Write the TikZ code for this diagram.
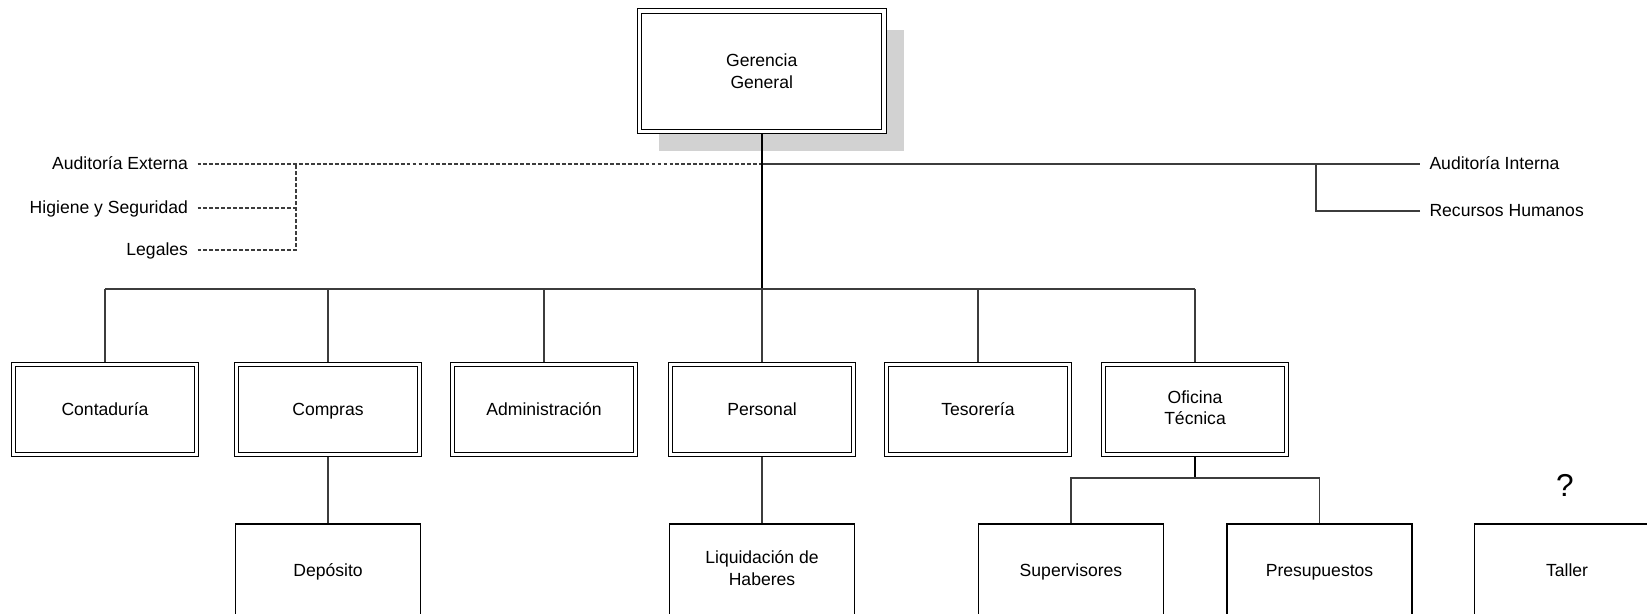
\documentclass[tikz,border=0pt]{standalone}
\usepackage{fontspec}
\setmainfont{Liberation Sans}
\usetikzlibrary{calc,shadows}
\definecolor{LineGray}{HTML}{3C3C3C}
\definecolor{ShadowGray}{HTML}{D2D2D2}
\newcommand{\topstrut}{\rule{0pt}{9.4pt}}
\newcommand{\botstrut}{\rule[-2.2pt]{0pt}{2.2pt}}
\tikzset{
    mainbox/.style = {draw, rectangle, double, double distance=1.8pt,
        line width=0.7pt, fill=white, align=center, outer sep=1.6pt,
        minimum height=2.41cm,
        minimum width=4.89cm},
    deptbox/.style = {draw, rectangle, double, double distance=1.8pt,
        line width=0.7pt, fill=white, align=center, outer sep=1.6pt,
        execute at begin node=\topstrut, execute at end node=\botstrut,
        minimum height=1.8cm,
        minimum width=3.66cm},
    subbox/.style = {draw, rectangle, line width=0.8pt, align=center,
        execute at begin node=\topstrut, execute at end node=\botstrut,
        minimum height=1.84cm,
        minimum width=3.7cm},
    side/.style = {inner sep=0pt, outer sep=0.19cm, text height=1.5ex, text depth=.25ex},
    link/.style = {draw, LineGray, line width=0.6pt},
    mainlink/.style = {draw, black, line width=1.1pt},
    dashlink/.style = {link, dash pattern=on 2.2pt off 1.2pt}
}

\begin{document}
\begin{tikzpicture}
    \clip[use as bounding box] (0,0) rectangle (32.94,-12.28);
    % direccion
    \node[mainbox, drop shadow={shadow xshift=0.39cm, shadow yshift=-0.39cm, fill=ShadowGray, opacity=1}]
        (gg) at (15.235,-1.425) {Gerencia\\General};
    % staff
    \node[side, anchor=east] (ae) at (3.95,-3.28) {Auditoría Externa};
    \node[side, anchor=east] (hs) at (3.95,-4.16) {Higiene y Seguridad};
    \node[side, anchor=east] (le) at (3.95,-5.0) {Legales};
    \node[side, anchor=west] (ai) at (28.4,-3.28) {Auditoría Interna};
    \node[side, anchor=west] (rh) at (28.4,-4.22) {Recursos Humanos};
    \coordinate (xtr) at (5.92,-3.28);
    \coordinate (intr) at (26.32,-3.28);
    % departamentos
    \node[deptbox] (cont) at (2.10,-8.19) {Contaduría};
    \node[deptbox] (comp) at (6.56,-8.19) {Compras};
    \node[deptbox] (adm)  at (10.88,-8.19) {Administración};
    \node[deptbox] (pers) at (15.24,-8.19) {Personal};
    \node[deptbox] (tes)  at (19.56,-8.19) {Tesorería};
    \node[deptbox] (tec)  at (23.90,-8.19) {Oficina\\Técnica};
    \coordinate (bus) at (0,-5.78);
    \coordinate (obus) at (23.90,-9.56);
    % secciones
    \node[subbox] (dep)  at (6.56,-11.40) {Depósito};
    \node[subbox] (liq)  at (15.24,-11.40) {Liquidación de\\Haberes};
    \node[subbox] (sup)  at (21.42,-11.40) {Supervisores};
    \node[subbox] (pres) at (26.39,-11.40) {Presupuestos};
    \node[subbox] (tal)  at (31.34,-11.40) {Taller};
    \node[font=\fontsize{18}{20}\selectfont] (q) at (31.3,-9.7) {?};

    \draw[dashlink] (ae.east) -- (ae.east -| gg.south);
    \draw[link] (ae.east -| gg.south) -- (ai.west);
    \draw[dashlink] (hs.east) -- (hs.east -| xtr);
    \draw[dashlink] (le.east) -| (xtr);
    \draw[link] (rh.west) -| (intr);

    \draw[mainlink] (gg.south) -- (gg.south |- bus);
    \draw[link] (cont.north |- bus) -- (tec.north |- bus);
    \foreach \d in {cont,comp,adm,pers,tes,tec}
        \draw[link] (\d.north |- bus) -- (\d.north);

    \draw[link] (comp.south) -- (dep.north);
    \draw[link] (pers.south) -- (liq.north);
    \draw[mainlink, line width=0.8pt] (tec.south) -- (obus);
    \draw[link] (sup.north) |- (obus) -| (pres.north);
\end{tikzpicture}
\end{document}
